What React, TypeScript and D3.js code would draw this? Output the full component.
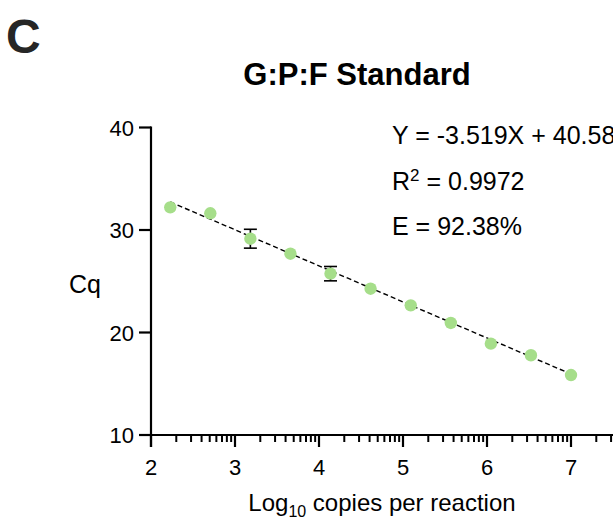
import React from "react";
import * as d3 from "d3";

const logCopies = [2.229, 2.706, 3.183, 3.66, 4.137, 4.614, 5.092, 5.569, 6.046, 6.523, 7.0];
const cqMean = [32.21, 31.63, 29.15, 27.69, 25.74, 24.27, 22.65, 20.93, 18.91, 17.78, 15.85];
const cqSD = [0, 0, 0.92, 0, 0.7, 0, 0, 0, 0, 0, 0];
const yTicks = [10, 20, 30, 40];
const xMajor = [2, 3, 4, 5, 6, 7, 8];
const xLabels = [2, 3, 4, 5, 6, 7];
const slope = -3.519;
const intercept = 40.58;
const fitText = ["Y = -3.519X + 40.58", "0.9972", "E = 92.38%"];

const W = 613;
const H = 519;
const FONT = "'Liberation Sans', Arial, Helvetica, sans-serif";
const GREEN = "#a6de8a";

export default function App() {
  const x = d3.scaleLinear().domain([2, 7]).range([151, 571]);
  const y = d3.scaleLinear().domain([10, 40]).range([435, 127.5]);
  const axisY = y(10);
  const minor: number[] = [];
  xMajor.forEach((d) => {
    for (let k = 2; k <= 9; k++) minor.push(d + Math.log10(k));
  });
  const fitX = [logCopies[0], logCopies[logCopies.length - 1]];
  const line = d3
    .line<number>()
    .x((d) => x(d))
    .y((d) => y(slope * d + intercept));

  return (
    <svg
      width={W}
      height={H}
      style={{ position: "fixed", left: 0, top: 0, background: "#fff" }}
      fontFamily={FONT}
    >
      <rect width={W} height={H} fill="#fff" />
      <text x={6} y={53} fontSize={48} fontWeight="bold" fill="#262626">C</text>
      <text x={357} y={85} fontSize={31} fontWeight="bold" textAnchor="middle" fill="#000">
        G:P:F Standard
      </text>

      {/* y axis */}
      <line x1={x(2)} x2={x(2)} y1={y(40) - 1} y2={axisY + 12} stroke="#000" strokeWidth={2.2} />
      {yTicks.map((t) => (
        <g key={t}>
          <line x1={x(2) - 12} x2={x(2)} y1={y(t)} y2={y(t)} stroke="#000" strokeWidth={2.2} />
          <text x={134} y={y(t) + 8} fontSize={22} textAnchor="end" fill="#000">{t}</text>
        </g>
      ))}
      <text x={69} y={293} fontSize={25} fill="#000">Cq</text>

      {/* x axis */}
      <line x1={x(2)} x2={W + 10} y1={axisY} y2={axisY} stroke="#000" strokeWidth={2.2} />
      {xMajor.map((t) => (
        <line key={t} x1={x(t)} x2={x(t)} y1={axisY} y2={axisY + 12} stroke="#000" strokeWidth={2.2} />
      ))}
      {minor.map((t, i) => (
        <line key={i} x1={x(t)} x2={x(t)} y1={axisY} y2={axisY + 7} stroke="#000" strokeWidth={2} />
      ))}
      {xLabels.map((t) => (
        <text key={t} x={x(t)} y={475} fontSize={22} textAnchor="middle" fill="#000">{t}</text>
      ))}
      <text x={382} y={511} fontSize={24} textAnchor="middle" fill="#000">
        Log<tspan fontSize={16} dy={6}>10</tspan>
        <tspan dy={-6}> copies per reaction</tspan>
      </text>

      {/* fit line */}
      <path d={line(fitX) || ""} fill="none" stroke="#000" strokeWidth={1.4} strokeDasharray="5,3" />

      {/* error bars */}
      {logCopies.map((lx, i) =>
        cqSD[i] > 0 ? (
          <g key={"e" + i} stroke="#000" strokeWidth={1.6}>
            <line x1={x(lx)} x2={x(lx)} y1={y(cqMean[i] + cqSD[i])} y2={y(cqMean[i] - cqSD[i])} />
            <line x1={x(lx) - 6.5} x2={x(lx) + 6.5} y1={y(cqMean[i] + cqSD[i])} y2={y(cqMean[i] + cqSD[i])} />
            <line x1={x(lx) - 6.5} x2={x(lx) + 6.5} y1={y(cqMean[i] - cqSD[i])} y2={y(cqMean[i] - cqSD[i])} />
          </g>
        ) : null
      )}
      {/* points */}
      {logCopies.map((lx, i) => (
        <circle key={"p" + i} cx={x(lx)} cy={y(cqMean[i])} r={6.2} fill={GREEN} />
      ))}

      {/* annotation */}
      <text x={392} y={144} fontSize={25} fill="#000">{fitText[0]}</text>
      <text x={392} y={190} fontSize={25} fill="#000">
        R<tspan fontSize={17} dy={-9}>2</tspan>
        <tspan dy={9}> = {fitText[1]}</tspan>
      </text>
      <text x={392} y={235} fontSize={25} fill="#000">{fitText[2]}</text>
    </svg>
  );
}
